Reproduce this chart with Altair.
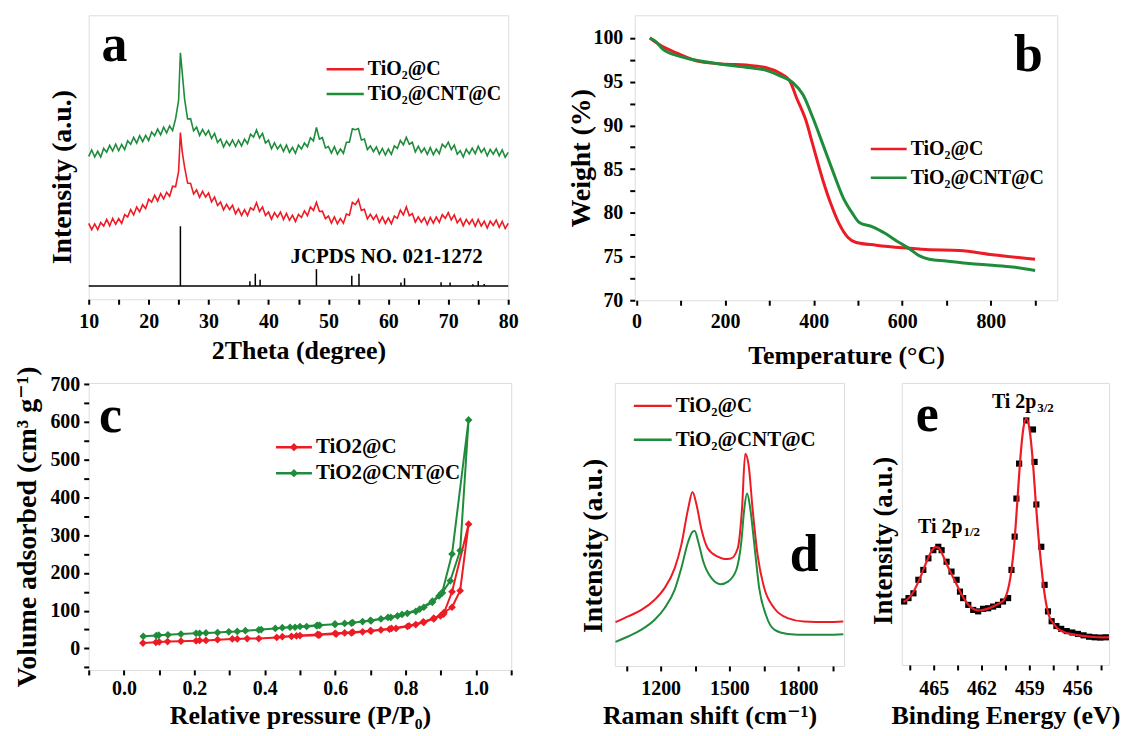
import altair as alt
import pandas as pd

FONT = "'Liberation Serif', 'Times New Roman', 'DejaVu Serif', serif"
RED = "#ED1C24"
GREEN = "#1E8C3A"

# ---------------- (a) XRD ----------------
XRD_X = [10, 10.5, 11, 11.5, 12, 12.5, 13, 13.5, 14, 14.5, 15, 15.5, 16, 16.5, 17, 17.5, 18, 18.5, 19, 19.5,
         20, 20.5, 21, 21.5, 22, 22.5, 23, 23.5, 24, 24.5, 25, 25.3, 25.6, 26, 26.5, 27, 27.5, 28, 28.5, 29,
         29.5, 30, 30.5, 31, 31.5, 32, 32.5, 33, 33.5, 34, 34.5, 35, 35.5, 36, 36.5, 37, 37.5, 38, 38.5, 39,
         39.5, 40, 40.5, 41, 41.5, 42, 42.5, 43, 43.5, 44, 44.5, 45, 45.5, 46, 46.5, 47, 47.5, 48, 48.5, 49,
         49.5, 50, 50.5, 51, 51.5, 52, 52.5, 53, 53.5, 54, 54.5, 55, 55.5, 56, 56.5, 57, 57.5, 58, 58.5, 59,
         59.5, 60, 60.5, 61, 61.5, 62, 62.5, 63, 63.5, 64, 64.5, 65, 65.5, 66, 66.5, 67, 67.5, 68, 68.5, 69,
         69.5, 70, 70.5, 71, 71.5, 72, 72.5, 73, 73.5, 74, 74.5, 75, 75.5, 76, 76.5, 77, 77.5, 78, 78.5, 79,
         79.5, 80]
XRD_RED = [26.7, 24.5, 26.5, 24.5, 27.0, 25.8, 28.1, 25.9, 28.5, 26.4, 28.4, 26.7, 29.8, 29.0, 31.6, 29.7,
           32.5, 30.8, 33.3, 31.9, 35.2, 34.2, 36.6, 34.6, 37.2, 35.3, 37.7, 36.3, 39.8, 39.6,
           45.0, 58.7, 52.0,
           46.5, 40.9, 40.8, 37.1, 38.5, 35.9, 38.0, 36.0, 37.4, 34.3,
           36.0, 33.0, 34.2, 31.5, 33.4, 31.6, 33.1, 30.1, 31.9, 29.5,
           31.5, 29.5, 32.2, 31.4, 34.0, 30.9, 32.5, 29.5, 30.7, 28.2,
           30.5, 28.9, 30.7, 28.1, 30.2, 27.8, 29.6, 27.4, 29.9, 28.8,
           31.1, 29.4, 32.5, 31.3, 34.1, 30.9, 31.0, 28.4, 29.3, 26.8,
           29.0, 26.6, 28.4, 26.8, 30.0, 29.6, 34.1, 33.3, 35.1, 31.3,
           31.7, 28.3, 29.9, 28.1, 29.7, 27.0, 29.0, 26.7, 28.6, 26.6,
           29.3, 28.5, 31.4, 29.7, 32.5, 29.4, 30.2, 27.2, 29.0, 27.1,
           28.7, 26.3, 28.8, 26.8, 29.0, 27.1, 29.8, 28.5, 30.5, 27.9,
           29.7, 26.9, 28.4, 25.9, 28.1, 26.4, 28.1, 25.7, 28.1, 25.8,
           27.5, 25.1, 27.5, 26.0, 27.9, 25.3, 27.4, 24.9, 26.7]
XRD_GREEN = [50.3, 52.6, 50.1, 52.1, 50.1, 53.1, 51.8, 54.2, 52.2, 54.6, 52.3, 54.5, 52.7, 55.8, 54.6, 57.0,
             55.0, 57.6, 55.5, 57.7, 55.9, 58.9, 57.6, 59.9, 57.9, 60.6, 58.6, 61.0, 59.4, 63.6,
             70.0, 86.8, 80.0,
             70.5, 63.5, 63.6, 59.3, 60.6, 57.7, 59.8, 57.8, 59.4, 56.6,
             58.4, 55.2, 56.4, 53.6, 55.7, 54.1, 56.1, 53.8, 56.0, 54.0,
             56.4, 54.8, 58.1, 57.1, 59.6, 56.8, 58.4, 55.0, 56.0, 53.0,
             55.1, 52.9, 54.4, 52.1, 54.3, 51.7, 53.5, 51.4, 54.3, 52.9,
             55.0, 53.7, 56.9, 55.8, 60.5, 56.4, 56.9, 53.3, 53.8, 51.5,
             53.7, 51.1, 52.9, 51.4, 55.3, 55.3, 60.0, 59.7, 60.1, 56.1,
             56.4, 52.7, 54.0, 52.0, 53.6, 51.1, 53.1, 50.8, 52.9, 51.0,
             54.0, 53.1, 55.9, 54.4, 57.0, 54.6, 55.3, 51.9, 53.9, 51.7,
             53.2, 51.0, 53.4, 50.9, 52.9, 51.3, 54.6, 53.5, 55.3, 52.7,
             54.3, 51.1, 52.3, 50.1, 52.8, 51.2, 53.2, 51.3, 53.9, 51.7,
             53.1, 50.5, 52.8, 51.1, 53.0, 50.5, 52.6, 50.0, 51.7]
JCPDS_POS = [25.3, 36.9, 37.8, 38.6, 48.0, 53.9, 55.1, 62.1, 62.7, 68.8, 70.3, 74.1, 75.0, 76.0]
JCPDS_H = [25.7, 6.3, 9.0, 6.9, 10.6, 8.3, 9.0, 5.9, 7.4, 6.0, 5.9, 5.3, 6.4, 5.4]
JCPDS_BASE = 4.7
JCPDS_LABEL = "JCPDS NO. 021-1272"

# ---------------- (b) TGA ----------------
TGA_T_RED = [30, 53, 90, 143, 203, 248, 293, 323, 346, 361, 383, 398, 421, 439, 458, 477, 496, 541, 601,
             654, 729, 804, 900]
TGA_W_RED = [100, 99.2, 98.3, 97.3, 97.0, 96.9, 96.6, 96.0, 95.1, 93.2, 90.5, 87.8, 83.7, 81.0, 78.7,
             77.2, 76.6, 76.3, 76.0, 75.8, 75.7, 75.2, 74.7]
TGA_T_GREEN = [30, 41, 60, 98, 165, 240, 293, 323, 353, 376, 398, 421, 443, 466, 488, 503, 533, 563, 593,
               616, 638, 661, 699, 751, 804, 849, 900]
TGA_W_GREEN = [100, 99.7, 98.7, 97.9, 97.2, 96.7, 96.3, 95.7, 94.9, 93.5, 90.9, 87.8, 84.8, 81.8, 79.9,
               78.9, 78.4, 77.6, 76.6, 75.9, 75.1, 74.7, 74.5, 74.2, 74.0, 73.8, 73.4]

# ---------------- (c) N2 isotherms ----------------
BET_RED_P = [0.054, 0.091, 0.100, 0.124, 0.162, 0.205, 0.215, 0.233, 0.266, 0.308, 0.322, 0.350, 0.383,
             0.434, 0.476, 0.490, 0.552, 0.556, 0.603, 0.627, 0.646, 0.678, 0.702, 0.730, 0.754, 0.773,
             0.805, 0.829, 0.852, 0.880, 0.899, 0.909, 0.932, 0.955, 0.979,
             0.932, 0.908, 0.880, 0.850, 0.810, 0.760, 0.700, 0.650, 0.600, 0.550, 0.500, 0.450]
BET_RED_V = [14, 16, 17, 18, 19, 20, 21, 21, 23, 25, 25, 26, 26, 29, 32, 33, 35, 36, 38, 41, 41, 44, 46,
             49, 51, 53, 58, 63, 69, 78, 86, 95, 109, 153, 329,
             150, 91, 80, 70, 60, 53, 47, 43, 40, 37, 34, 31]
BET_GREEN_P = [0.055, 0.092, 0.099, 0.125, 0.162, 0.205, 0.215, 0.233, 0.266, 0.298, 0.322, 0.345, 0.383,
               0.390, 0.430, 0.472, 0.486, 0.519, 0.547, 0.556, 0.599, 0.627, 0.646, 0.678, 0.702, 0.730,
               0.758, 0.777, 0.805, 0.829, 0.852, 0.876, 0.895, 0.904, 0.927, 0.955, 0.979,
               0.932, 0.904, 0.876, 0.840, 0.790, 0.750, 0.700, 0.650, 0.600, 0.550, 0.500, 0.450]
BET_GREEN_V = [32, 34, 35, 36, 38, 40, 40, 41, 42, 44, 45, 47, 49, 50, 53, 56, 56, 58, 60, 61, 64, 66, 67,
               71, 73, 78, 82, 86, 93, 98, 109, 122, 139, 147, 179, 259, 605,
               250, 148, 125, 104, 90, 82, 74, 68, 64, 61, 58, 55]

# ---------------- (d) Raman ----------------
RAMAN_X_RED = [1003, 1058, 1116, 1174, 1217, 1261, 1290, 1320, 1339, 1357, 1377, 1406, 1449, 1478, 1507,
               1536, 1555, 1569, 1584, 1601, 1623, 1652, 1696, 1754, 1826, 1927, 1997]
RAMAN_Y_RED = [15.5, 17.5, 19.8, 23.4, 27.5, 34.5, 42.7, 55.6, 61.5, 56.8, 48.6, 41.5, 38.6, 37.8, 38.0,
               41.5, 55.6, 75.0, 70.9, 55.6, 39.2, 27.5, 20.4, 16.9, 15.7, 15.5, 15.7]
RAMAN_X_GREEN = [1003, 1058, 1116, 1174, 1217, 1261, 1290, 1320, 1340, 1349, 1364, 1386, 1422, 1462, 1494,
                 1530, 1552, 1565, 1577, 1591, 1609, 1630, 1659, 1696, 1754, 1841, 1927, 1997]
RAMAN_Y_GREEN = [8.5, 10.4, 12.8, 16.3, 20.4, 26.9, 34.5, 43.9, 47.5, 47.7, 43.9, 36.9, 31.0, 28.9, 29.8,
                 33.9, 43.9, 55.6, 60.9, 55.6, 42.7, 27.5, 18.1, 12.8, 11.3, 11.0, 11.0, 11.2]

# ---------------- (e) XPS Ti 2p ----------------
XPS_BE = [466.85, 466.58, 466.27, 465.96, 465.65, 465.33, 465.02, 464.71, 464.50, 464.19, 463.88, 463.56,
          463.35, 463.15, 462.83, 462.52, 462.21, 461.90, 461.58, 461.27, 460.96, 460.65, 460.33, 460.12,
          459.92, 459.81, 459.64, 459.19, 458.77, 458.67, 458.56, 458.25, 458.04, 457.83, 457.60, 457.30,
          457.00, 456.65, 456.30, 455.95, 455.60, 455.25, 454.90, 454.55, 454.20]
XPS_I = [22.5, 23.7, 25.4, 30.2, 33.7, 37.8, 40.7, 41.9, 40.7, 36.6, 33.1, 30.2, 26.0, 23.7, 21.3, 19.5,
         19.0, 19.9, 20.1, 20.7, 21.3, 22.5, 23.7, 33.7, 45.5, 59.0, 71.4, 86.7, 83.5, 72.0, 56.9, 41.9,
         28.4, 19.0, 15.5, 13.8, 12.8, 12.0, 11.5, 11.0, 10.5, 10.0, 9.8, 9.7, 9.8]
FIT_BE = [466.9, 466.6, 466.3, 466.0, 465.7, 465.4, 465.15, 464.9, 464.7, 464.45, 464.2, 463.9, 463.6,
          463.3, 463.0, 462.7, 462.4, 462.1, 461.8, 461.5, 461.2, 460.9, 460.6, 460.4, 460.25, 460.1,
          459.95, 459.8, 459.65, 459.5, 459.35, 459.2, 459.05, 458.9, 458.75, 458.6, 458.45, 458.3,
          458.15, 458.0, 457.8, 457.5, 457.2, 456.8, 456.4, 456.0, 455.5, 455.0, 454.5, 454.0]
FIT_I = [22.3, 23.5, 25.6, 29.0, 33.0, 37.2, 40.2, 41.8, 41.6, 39.2, 36.0, 32.4, 29.0, 25.6, 22.6, 20.6,
         19.6, 19.3, 19.6, 20.2, 20.9, 21.8, 23.0, 25.5, 29.0, 34.5, 42.5, 54.0, 66.5, 77.5, 84.8, 87.3,
         85.5, 79.5, 70.0, 58.0, 47.0, 38.0, 30.0, 23.5, 18.0, 14.8, 12.8, 11.6, 11.0, 10.6, 10.2, 9.9,
         9.8, 9.8]

SERIES_A = ["TiO\u2082@C", "TiO\u2082@CNT@C"]
SERIES_C = ["TiO2@C", "TiO2@CNT@C"]
COLORS = [RED, GREEN]


def ax(**kw):
    base = dict(labelFont=FONT, labelFontSize=20, labelFontWeight="bold", labelColor="black",
                titleFont=FONT, titleFontSize=26, titleFontWeight="bold", titleColor="black",
                tickColor="black", tickWidth=2, tickSize=5, domain=False, grid=False,
                labelPadding=6, labelFlush=False, labelOverlap=False)
    base.update(kw)
    return alt.Axis(**base)


def txt(df, X, Y, size, align="left", baseline="alphabetic", weight="bold"):
    return alt.Chart(df).mark_text(font=FONT, fontSize=size, fontWeight=weight, align=align,
                                   baseline=baseline, color="black").encode(x=X, y=Y, text="t:N")


def legend_layers(X, Y, xs, xe, ys, labels, size, marker=None):
    dfl = pd.DataFrame({"x": [xs] * 2, "x2": [xe] * 2, "y": ys, "c": COLORS})
    out = [alt.Chart(dfl).mark_rule(strokeWidth=2.5).encode(
        x=X, x2="x2:Q", y=Y, color=alt.Color("c:N", scale=None))]
    if marker is not None:
        dfm = pd.DataFrame({"x": [(xs + xe) / 2] * 2, "y": ys, "c": COLORS})
        out.append(alt.Chart(dfm).mark_point(shape=marker, filled=True, size=70, opacity=1).encode(
            x=X, y=Y, color=alt.Color("c:N", scale=None)))
    dft = pd.DataFrame({"x": [xe] * 2, "y": ys, "t": labels})
    out.append(alt.Chart(dft).mark_text(font=FONT, fontSize=size, fontWeight="bold", align="left",
                                        baseline="middle", dx=4, color="black").encode(x=X, y=Y, text="t:N"))
    return out


# ---------------- panel a ----------------
XA = alt.X("x:Q", scale=alt.Scale(domain=[10, 80], nice=False, zero=False),
           axis=ax(values=list(range(10, 81, 5)), labelExpr="datum.value % 10 == 0 ? datum.label : ''",
                   title="2Theta (degree)", labelPadding=7, titleY=51, titleBaseline="middle"))
YA = alt.Y("y:Q", scale=alt.Scale(domain=[0, 100], nice=False, zero=False),
           axis=ax(labels=False, ticks=False, title="Intensity (a.u.)", titleX=-26, titleY=162,
                   titleBaseline="middle", titleFontSize=28))
a_layers = [
    alt.Chart(pd.DataFrame({"x": XRD_X, "y": XRD_RED})).mark_line(color=RED, strokeWidth=1.6).encode(x=XA, y=YA),
    alt.Chart(pd.DataFrame({"x": XRD_X, "y": XRD_GREEN})).mark_line(color=GREEN, strokeWidth=1.6).encode(x=XA, y=YA),
    alt.Chart(pd.DataFrame({"x": [XRD_X[0]], "x2": [XRD_X[-1]], "y": [JCPDS_BASE]})).mark_rule(
        color="black", strokeWidth=1.5).encode(x=XA, x2="x2:Q", y=YA),
    alt.Chart(pd.DataFrame({"x": JCPDS_POS, "y": [JCPDS_BASE] * len(JCPDS_POS), "y2": JCPDS_H})).mark_rule(
        color="black", strokeWidth=1.5).encode(x=XA, y=YA, y2="y2:Q"),
    txt(pd.DataFrame({"x": [59.7], "y": [12.6], "t": [JCPDS_LABEL]}), XA, YA, 21, align="center"),
    txt(pd.DataFrame({"x": [14.3], "y": [83.9], "t": ["a"]}), XA, YA, 52, align="center"),
] + legend_layers(XA, YA, 49.7, 55.9, [81.0, 72.3], SERIES_A, 20)
pa = alt.layer(*a_layers).properties(width=421, height=285)

# ---------------- panel b ----------------
XB = alt.X("x:Q", scale=alt.Scale(domain=[-4, 950], nice=False, zero=False),
           axis=ax(values=list(range(0, 901, 100)), labelExpr="datum.value % 200 == 0 ? datum.label : ''",
                   title="Temperature (\u00b0C)", labelPadding=6, titleY=55, titleBaseline="middle"))
YB = alt.Y("y:Q", scale=alt.Scale(domain=[70, 102.6], nice=False, zero=False),
           axis=ax(values=[70, 72.5, 75, 77.5, 80, 82.5, 85, 87.5, 90, 92.5, 95, 97.5, 100],
                   labelExpr="datum.value % 5 == 0 ? datum.label : ''",
                   title="Weight (%)", labelPadding=7, titleX=-53, titleBaseline="middle", titleFontSize=28))
b_layers = [
    alt.Chart(pd.DataFrame({"x": TGA_T_RED, "y": TGA_W_RED})).mark_line(
        color=RED, strokeWidth=3, interpolate="monotone").encode(x=XB, y=YB),
    alt.Chart(pd.DataFrame({"x": TGA_T_GREEN, "y": TGA_W_GREEN})).mark_line(
        color=GREEN, strokeWidth=3, interpolate="monotone").encode(x=XB, y=YB),
    txt(pd.DataFrame({"x": [885], "y": [96.2], "t": ["b"]}), XB, YB, 52, align="center"),
] + legend_layers(XB, YB, 529, 610, [87.3, 84.0], SERIES_A, 20)
pb = alt.layer(*b_layers).properties(width=424, height=286)

# ---------------- panel c ----------------
XC = alt.X("x:Q", scale=alt.Scale(domain=[-0.1, 1.1], nice=False, zero=False),
           axis=ax(values=[-0.1, 0, 0.1, 0.2, 0.3, 0.4, 0.5, 0.6, 0.7, 0.8, 0.9, 1.0, 1.1],
                   labelExpr="datum.value >= 0 && datum.value <= 1.0001 && round(datum.value * 10) % 2 == 0 ? format(datum.value, '.1f') : ''",
                   title="Relative pressure (P/P\u2080)", labelPadding=4, titleY=46, titleBaseline="middle"))
YC = alt.Y("y:Q", scale=alt.Scale(domain=[-57, 703], nice=False, zero=False),
           axis=ax(values=list(range(-50, 701, 50)),
                   labelExpr="datum.value >= 0 && datum.value % 100 == 0 ? datum.label : ''",
                   title="Volume adsorbed (cm\u00b3 g\u207b\u00b9)", labelPadding=4, titleX=-61,
                   titleBaseline="middle", titleFontSize=28))
dcr = pd.DataFrame({"x": BET_RED_P, "y": BET_RED_V, "i": list(range(len(BET_RED_P)))})
dcg = pd.DataFrame({"x": BET_GREEN_P, "y": BET_GREEN_V, "i": list(range(len(BET_GREEN_P)))})
c_layers = [
    alt.Chart(dcr).mark_line(color=RED, strokeWidth=2).encode(x=XC, y=YC, order="i:Q"),
    alt.Chart(dcr).mark_point(shape="diamond", filled=True, size=60, color=RED, opacity=1).encode(x=XC, y=YC),
    alt.Chart(dcg).mark_line(color=GREEN, strokeWidth=2).encode(x=XC, y=YC, order="i:Q"),
    alt.Chart(dcg).mark_point(shape="diamond", filled=True, size=60, color=GREEN, opacity=1).encode(x=XC, y=YC),
    txt(pd.DataFrame({"x": [-0.038], "y": [573], "t": ["c"]}), XC, YC, 52, align="center"),
] + legend_layers(XC, YC, 0.432, 0.534, [533, 464], SERIES_C, 21, marker="diamond")
pc = alt.layer(*c_layers).properties(width=424, height=288)

# ---------------- panel d ----------------
XD = alt.X("x:Q", scale=alt.Scale(domain=[1000, 2000], nice=False, zero=False),
           axis=ax(values=[1050, 1200, 1350, 1500, 1650, 1800, 1950], format="d",
                   labelExpr="datum.value % 300 == 0 ? datum.label : ''",
                   title="Raman shift (cm\u207b\u00b9)", labelPadding=8, titleX=95, titleY=50,
                   titleBaseline="middle"))
YD = alt.Y("y:Q", scale=alt.Scale(domain=[0, 100], nice=False, zero=False),
           axis=ax(labels=False, ticks=False, title="Intensity (a.u.)", titleX=-21, titleY=163,
                   titleBaseline="middle", titleFontSize=28))
d_layers = [
    alt.Chart(pd.DataFrame({"x": RAMAN_X_RED, "y": RAMAN_Y_RED})).mark_line(
        color=RED, strokeWidth=2, interpolate="monotone").encode(x=XD, y=YD),
    alt.Chart(pd.DataFrame({"x": RAMAN_X_GREEN, "y": RAMAN_Y_GREEN})).mark_line(
        color=GREEN, strokeWidth=2, interpolate="monotone").encode(x=XD, y=YD),
    txt(pd.DataFrame({"x": [1826], "y": [33.5], "t": ["d"]}), XD, YD, 52, align="center"),
] + legend_layers(XD, YD, 1083, 1248, [91.9, 79.9], SERIES_A, 21)
pdd = alt.layer(*d_layers).properties(width=230, height=284)

# ---------------- panel e ----------------
XE = alt.X("x:Q", scale=alt.Scale(domain=[454, 467], reverse=True, nice=False, zero=False),
           axis=ax(values=[466.5, 465, 463.5, 462, 460.5, 459, 457.5, 456, 454.5], format="d",
                   labelExpr="datum.value % 3 == 0 ? datum.label : ''",
                   title="Binding Energy (eV)", labelPadding=9, titleY=51, titleBaseline="middle"))
YE = alt.Y("y:Q", scale=alt.Scale(domain=[0, 100], nice=False, zero=False),
           axis=ax(labels=False, ticks=False, title="Intensity (a.u.)", titleX=-18, titleY=158,
                   titleBaseline="middle", titleFontSize=27))
e_layers = [
    alt.Chart(pd.DataFrame({"x": XPS_BE, "y": XPS_I})).mark_point(
        shape="square", filled=True, size=38, color="black", opacity=1).encode(x=XE, y=YE),
    alt.Chart(pd.DataFrame({"x": FIT_BE, "y": FIT_I})).mark_line(
        color=RED, strokeWidth=2.2, interpolate="monotone").encode(x=XE, y=YE),
    txt(pd.DataFrame({"x": [465.4], "y": [83], "t": ["e"]}), XE, YE, 52, align="center"),
    txt(pd.DataFrame({"x": [458.56, 463.19], "y": [91.0, 46.8], "t": ["Ti 2p", "Ti 2p"]}), XE, YE, 20,
        align="right"),
    txt(pd.DataFrame({"x": [458.5, 463.13], "y": [89.8, 45.6], "t": ["3/2", "1/2"]}), XE, YE, 13,
        align="left"),
]
pe = alt.layer(*e_layers).properties(width=208, height=283)

top = alt.hconcat(pa, pb, spacing=48)
bottom = alt.hconcat(pc, alt.hconcat(pdd, pe, spacing=21), spacing=66)
chart = alt.vconcat(top, bottom, spacing=-4).properties(
    padding={"left": 5, "top": 5, "right": 0, "bottom": 0}
).configure_view(stroke="black", strokeWidth=2.5).configure(font=FONT, background="white")

chart.save("out.html", embed_options={"renderer": "svg", "actions": False})
